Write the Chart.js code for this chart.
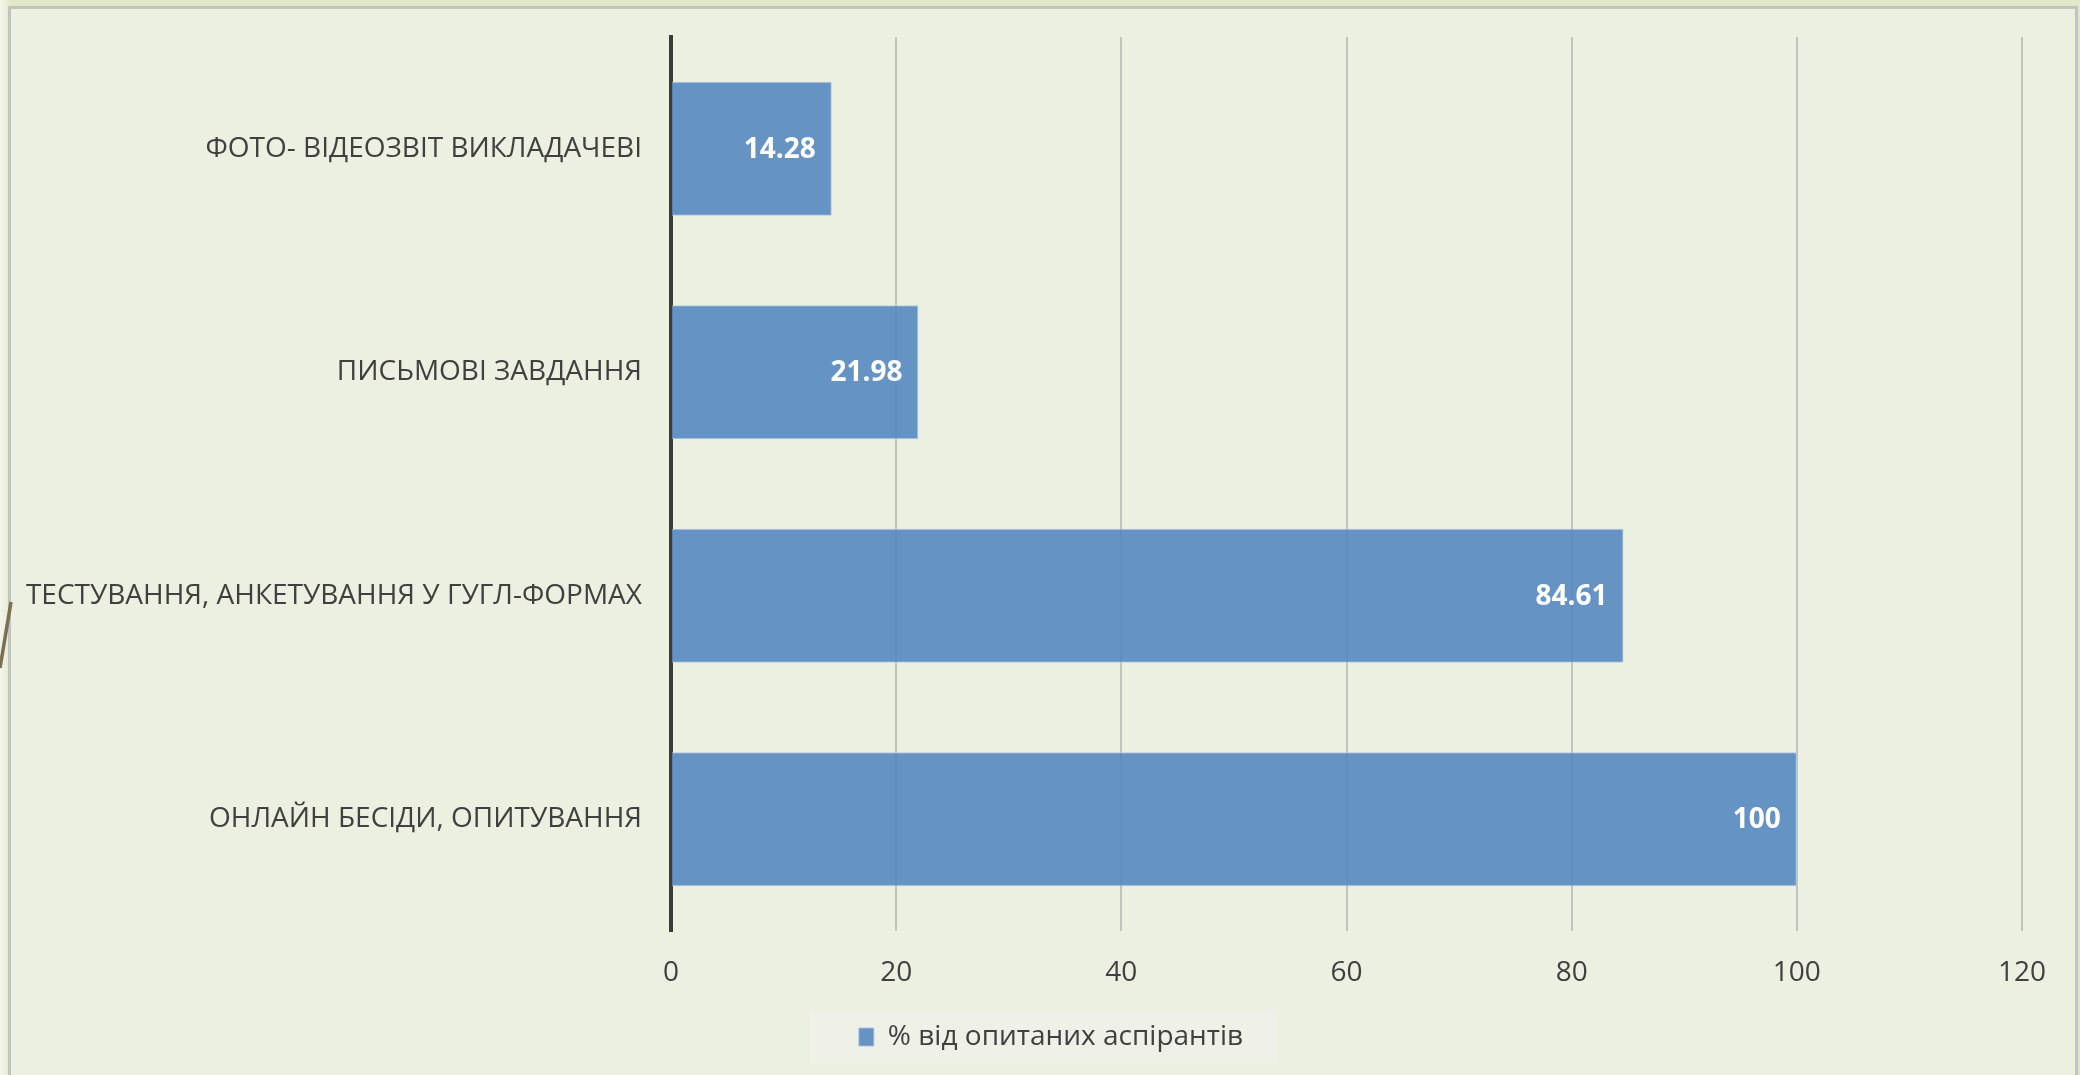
<!DOCTYPE html>
<html>
<head>
<meta charset="utf-8">
<script src="https://cdn.jsdelivr.net/npm/chart.js@4.4.0/dist/chart.umd.min.js"></script>
<style>
  html, body { margin: 0; padding: 0; }
  body { width: 2080px; height: 1075px; background: #e2e8c6; overflow: hidden; position: relative; }
  #edge { position: absolute; left: 0; top: 0; width: 9px; height: 1075px; background: linear-gradient(to right, #f4f6ec, #e6ebd2); }
  #panel { position: absolute; left: 8px; top: 6px; width: 2070px; height: 1090px; background: #ecf0e0; border: 3px solid #c2c4bf; box-sizing: border-box; }
  #deco { position: absolute; left: 0; top: 0; }
  #chart { position: absolute; left: 0; top: 0; }
</style>
</head>
<body>
<div id="edge"></div>
<div id="panel"></div>
<svg id="deco" width="20" height="1075">
  <line x1="0" y1="668" x2="11" y2="602" stroke="#7b7052" stroke-width="3.5"/>
</svg>
<canvas id="chart" width="2080" height="1075"></canvas>
<script>
// дані з діаграми
const categories = [
    'ФОТО- ВІДЕОЗВІТ ВИКЛАДАЧЕВІ',
    'ПИСЬМОВІ ЗАВДАННЯ',
    'ТЕСТУВАННЯ, АНКЕТУВАННЯ У ГУГЛ-ФОРМАХ',
    'ОНЛАЙН БЕСІДИ, ОПИТУВАННЯ'
];
const values = [14.28, 21.98, 84.61, 100];
const xMin = 0;
const xMax = 120;
const xStep = 20;
const seriesName = '% від опитаних аспірантів';

const textColor = '#404040';
const fontFamily = "'Open Sans', 'Noto Sans', sans-serif";
const legendShift = 40;

// зсув легенди вправо, як в оригіналі
const legendShiftPlugin = {
    id: 'legendShift',
    afterLayout(chart) {
        const lg = chart.legend;
        if (!lg) return;
        lg.left += legendShift;
        lg.right += legendShift;
        (lg.legendHitBoxes || []).forEach(h => { h.left += legendShift; });
    }
};

// фон легенди
const legendBackground = {
    id: 'legendBackground',
    beforeDraw(chart) {
        const boxes = chart.legend && chart.legend.legendHitBoxes;
        if (!boxes || !boxes.length) return;
        const hb = boxes[0];
        const ctx = chart.ctx;
        ctx.save();
        ctx.fillStyle = '#eff1e8';
        ctx.fillRect(hb.left - 50, hb.top + hb.height / 2 - 27, hb.width + 85, 54);
        ctx.restore();
    }
};

// підписи значень всередині стовпців
const valueLabels = {
    id: 'valueLabels',
    afterDatasetsDraw(chart) {
        const ctx = chart.ctx;
        const meta = chart.getDatasetMeta(0);
        ctx.save();
        ctx.font = "bold 28px " + fontFamily;
        ctx.fillStyle = '#ffffff';
        ctx.textAlign = 'right';
        ctx.textBaseline = 'middle';
        meta.data.forEach((bar, i) => {
            ctx.fillText(String(values[i]), bar.x - 16, bar.y + 1);
        });
        ctx.restore();
    }
};

function createChart() {
    const ctx = document.getElementById('chart').getContext('2d');

    new Chart(ctx, {
        type: 'bar',
        data: {
            labels: categories,
            datasets: [{
                label: seriesName,
                data: values,
                backgroundColor: 'rgba(87, 136, 192, 0.9)',
                borderColor: 'rgba(170, 196, 226, 0.9)',
                borderWidth: 1,
                barPercentage: 0.6,
                categoryPercentage: 1
            }]
        },
        options: {
            indexAxis: 'y',
            responsive: false,
            devicePixelRatio: 1,
            animation: false,
            layout: {
                padding: { top: 37, right: 58, left: 0, bottom: 14 }
            },
            scales: {
                x: {
                    min: xMin,
                    max: xMax,
                    ticks: {
                        stepSize: xStep,
                        color: textColor,
                        font: { family: fontFamily, size: 28 },
                        padding: 25
                    },
                    grid: {
                        color: c => c.tick && c.tick.value === 0 ? 'rgba(0,0,0,0)' : '#c2c4bc',
                        lineWidth: 2,
                        drawTicks: false
                    },
                    border: { display: false },
                    afterFit: s => { s.height = 80; }
                },
                y: {
                    ticks: {
                        color: textColor,
                        font: { family: fontFamily, size: 28 },
                        padding: 29
                    },
                    grid: { display: false, drawTicks: false },
                    border: { color: '#3c3c3c', width: 4 },
                    afterFit: s => {
                        s.width = 671;
                        s.paddingTop = 0;
                        s.paddingBottom = 0;
                    }
                }
            },
            plugins: {
                legend: {
                    position: 'bottom',
                    labels: {
                        color: textColor,
                        font: { family: fontFamily, size: 28 },
                        boxWidth: 15,
                        boxHeight: 18,
                        padding: 12
                    }
                },
                tooltip: { enabled: false }
            }
        },
        plugins: [legendShiftPlugin, legendBackground, valueLabels]
    });
}

createChart();
</script>
</body>
</html>
